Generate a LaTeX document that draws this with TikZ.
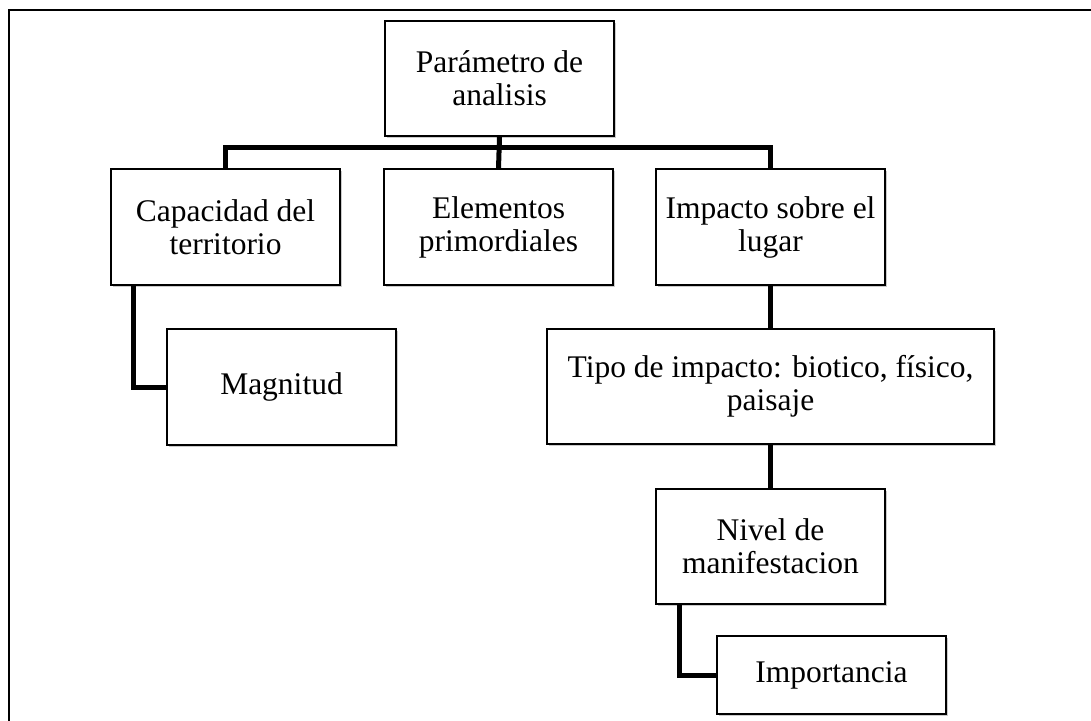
\documentclass[tikz,border=0pt]{standalone}
\usepackage{fontspec}
\setmainfont{Liberation Serif}
\usetikzlibrary{calc,shadows}
\tikzset{
  box/.style={draw=black, line width=1.4pt, fill=white, align=center,
    inner sep=0pt, minimum width=229pt,
    font=\fontsize{31.5}{33}\selectfont,
    drop shadow={shadow xshift=1.6pt, shadow yshift=-2pt, fill=black!25, opacity=0.8}},
  conn/.style={line width=5pt, line cap=butt, line join=miter},
  frame/.style={line width=2.4pt}
}
\begin{document}
\begin{tikzpicture}[x=1pt,y=-1pt]
\useasboundingbox (0,0) rectangle (1091,720);
\clip (0,0) rectangle (1091,720);
\fill[white] (0,0) rectangle (1091,720);
\draw[frame] (9,740) -- (9,10) -- (1110,10);

\coordinate (bar) at (499.5,147);
\coordinate (cP) at (499.5,78.5);
\coordinate (cC) at (225.5,227);
\coordinate (cE) at (498.5,227);
\coordinate (cI) at (770.5,227);
\coordinate (cM) at (281.5,387);
\coordinate (cT) at (770.5,386.5);
\coordinate (cN) at (770.5,546.5);
\coordinate (cImp) at (831.5,675);

\node[box, minimum height=115pt] (P) at (cP) {Parámetro de\\analisis};
\node[box, minimum height=116pt] (C) at (cC) {Capacidad del\\territorio};
\node[box, minimum height=116pt] (E) at (cE) {Elementos\\primordiales};
\node[box, minimum height=116pt] (I) at (cI) {Impacto sobre el\\lugar};
\node[box, minimum height=116pt] (M) at (cM) {Magnitud};
\node[box, minimum height=115pt, minimum width=447pt] (T) at (cT) {Tipo de impacto: biotico, físico,\\paisaje};
\node[box, minimum height=115pt] (N) at (cN) {Nivel de\\manifestacion};
\node[box, minimum height=78pt] (Imp) at (cImp) {Importancia};

\draw[conn] (C.north) |- (bar) -| (I.north);
\draw[conn] (P.south) -- (E.north);
\draw[conn] ($(C.south west)+(23,0)$) |- (M.west);
\draw[conn] (I.south) -- (T.north);
\draw[conn] (T.south) -- (N.north);
\draw[conn] ($(N.south west)+(24,0)$) |- (Imp.west);

\foreach \n in {P,C,E,I,M,T,N,Imp}{
  \draw[line width=1.4pt] (\n.north west) rectangle (\n.south east);
}
\end{tikzpicture}
\end{document}
